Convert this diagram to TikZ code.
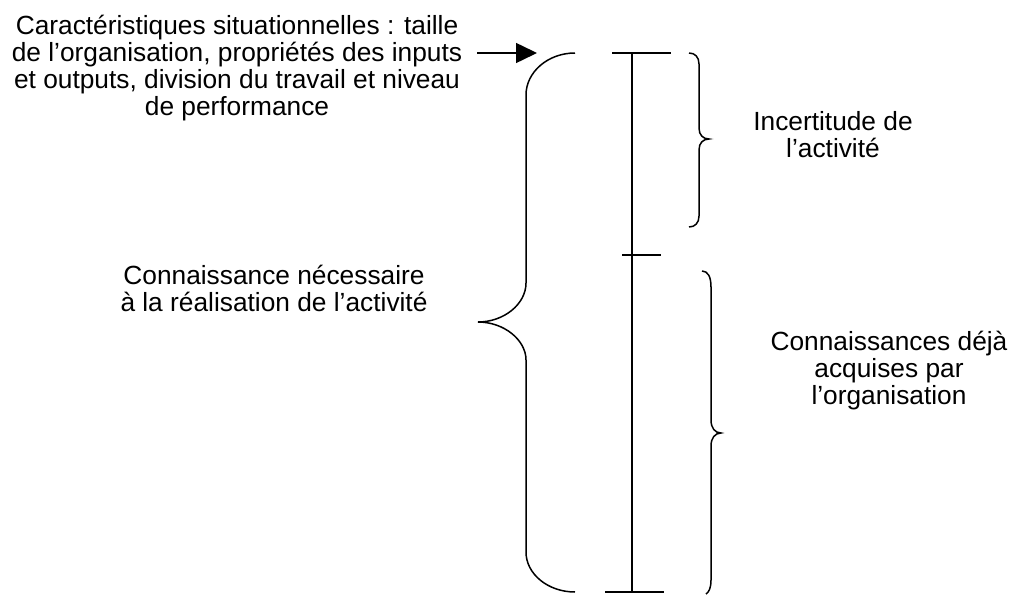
\documentclass[tikz,border=0pt]{standalone}
\usepackage{fontspec}
\setmainfont{Liberation Sans}
\usetikzlibrary{arrows.meta}
\begin{document}
\begin{tikzpicture}[x=1pt,y=-1pt,
  lbl/.style={align=center,inner sep=0pt,anchor=north,font=\fontsize{26.3}{27}\selectfont},
  ln/.style={line width=1.5pt},
  arr/.style={line width=1.5pt,-{Triangle[length=21pt,width=20pt]}}]
\useasboundingbox[fill=white] (0,0) rectangle (1014,594);
% texts
\node[lbl] (carac) at (237,14.5) {Caractéristiques situationnelles : taille\\de l’organisation, propriétés des inputs\\et outputs, division du travail et niveau\\de performance};
\node[lbl] (besoin) at (274,265) {Connaissance nécessaire\\à la réalisation de l’activité};
\node[lbl] (incert) at (833,111) {Incertitude de\\l’activité};
\node[lbl] (acquis) at (889,331) {Connaissances déjà\\acquises par\\l’organisation};
% arrow
\coordinate (arrS) at (477,53);
\coordinate (bigtop) at (537,53);
\draw[arr] (arrS) -- (bigtop);
% big brace
\draw[ln] (575,53) .. controls (548,53) and (526,72) .. (526,95)
  -- (526,283) .. controls (526,304) and (504,322) .. (478,322)
  .. controls (504,322) and (526,340) .. (526,360)
  -- (526,552) .. controls (526,574) and (548,592) .. (575,592);
% vertical scale
\coordinate (vtop) at (632,53);
\coordinate (vmid) at (632,255);
\coordinate (vbot) at (632,592);
\draw[ln] (vtop) -- (vbot);
\draw[ln] (612,53) -- (671,53);
\draw[ln] (622,255) -- (661,255);
\draw[ln] (605,592) -- (664,592);
% small brace (uncertainty)
\draw[ln] (689,53) .. controls (695,53) and (699,57) .. (699,64)
  -- (699,128) .. controls (699,135) and (703,139) .. (709,139)
  .. controls (703,139) and (699,143) .. (699,150)
  -- (699,216) .. controls (699,223) and (695,227) .. (689,227);
% lower brace (acquired knowledge)
\draw[ln] (702,271) .. controls (708,271) and (711,277) .. (711,287)
  -- (711,420) .. controls (711,428) and (715,433) .. (721,433)
  .. controls (715,433) and (711,438) .. (711,446)
  -- (711,580) .. controls (711,588) and (709,592) .. (706,594);
\end{tikzpicture}
\end{document}
